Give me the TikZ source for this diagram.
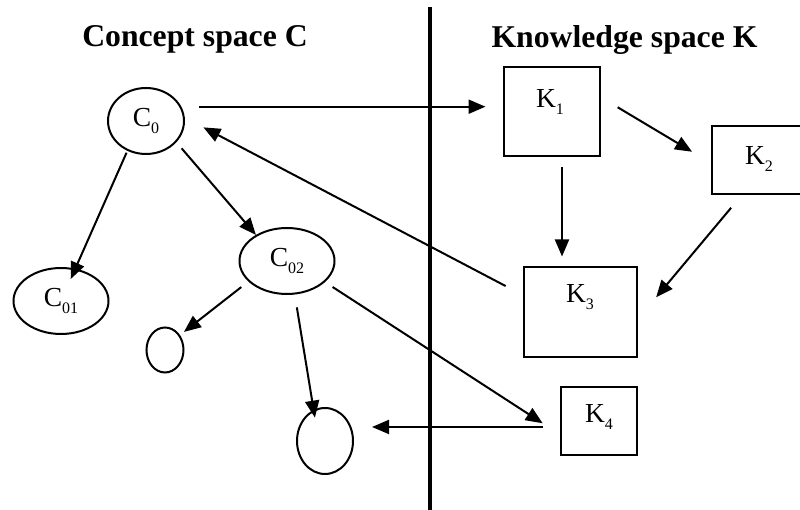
\documentclass[tikz,border=0pt]{standalone}
\usepackage{fontspec}
\setmainfont{Liberation Serif}
\usepackage{tikz}
\usetikzlibrary{arrows.meta,shapes.geometric,calc}
\newcommand{\lowsub}[1]{\raisebox{-7pt}{\fontsize{16}{16}\selectfont #1}}

\begin{document}
\begin{tikzpicture}[x=1pt,y=1pt,
  conc/.style={draw, ellipse, line width=2pt, inner sep=0pt, font=\fontsize{27.5}{30}\selectfont},
  know/.style={draw, rectangle, line width=2pt, inner sep=0pt},
  lab/.style={anchor=base, inner sep=0pt, font=\fontsize{27.5}{30}\selectfont},
  head/.style={anchor=base, inner sep=0pt, font=\bfseries\fontsize{31.7}{36}\selectfont},
  arr/.style={line width=2pt, -{Triangle[length=17pt,width=14pt]}}]
\useasboundingbox (0,0) rectangle (800,510);

\node[head] (tc) at (195,463) {Concept space C};
\node[head] (tk) at (624.5,462) {Knowledge space K};
\draw[line width=4pt] (430,503) -- (430,-5);

\node[conc, minimum width=76pt, minimum height=66pt] (c0) at (146,389) {C\lowsub{0}};
\node[conc, minimum width=95pt, minimum height=66pt] (c01) at (61,209) {C\lowsub{01}};
\node[conc, minimum width=95pt, minimum height=66pt] (c02) at (287,249) {C\lowsub{02}};
\node[conc, minimum width=37pt, minimum height=45pt] (cs) at (165,160) {};
\node[conc, minimum width=56pt, minimum height=66pt] (cc) at (325,69) {};

\node[know, minimum width=96pt, minimum height=89pt] (k1) at (551.5,398) {};
\node[know, minimum width=96pt, minimum height=68pt] (k2) at (760,349.5) {};
\node[know, minimum width=113pt, minimum height=90pt] (k3) at (580,197.5) {};
\node[know, minimum width=76pt, minimum height=68pt] (k4) at (598.5,88.5) {};
\node[lab] (k1t) at (550,402) {K\lowsub{1}};
\node[lab] (k2t) at (759,345) {K\lowsub{2}};
\node[lab] (k3t) at (580,207) {K\lowsub{3}};
\node[lab] (k4t) at (599,87) {K\lowsub{4}};

\draw[arr, shorten <=18pt, shorten >=17pt] (c0.22) -- (c0.22 -| k1.west);
\draw[arr, shorten <=20pt, shorten >=22pt] (k1.17) -- (k2.183);
\draw[arr, shorten <=10pt, shorten >=10pt] (k1.-77) -- (k1.-77 |- k3.north);
\draw[arr, shorten <=16pt, shorten >=29pt] (k2.242) -- (k3.-7);
\draw[arr, shorten <=19pt, shorten >=21pt] (k3.163) -- (c0.5);
\draw[arr, shorten <=2pt, shorten >=24pt] (c0.238) -- (c01.center);
\draw[arr, shorten <=8pt] (c0.-35) -- (c02.140);
\draw[arr, shorten <=9pt, shorten >=5pt] (c02.208) -- (cs.45);
\draw[arr, shorten <=13pt, shorten >=-8pt] (c02.-77) -- (cc.110);
\draw[arr, shorten <=9pt, shorten >=20pt] (c02.-29) -- (k4.198);
\draw[arr, shorten <=17pt, shorten >=18pt] (k4.188) -- (k4.188 -| cc.east);
\end{tikzpicture}
\end{document}
